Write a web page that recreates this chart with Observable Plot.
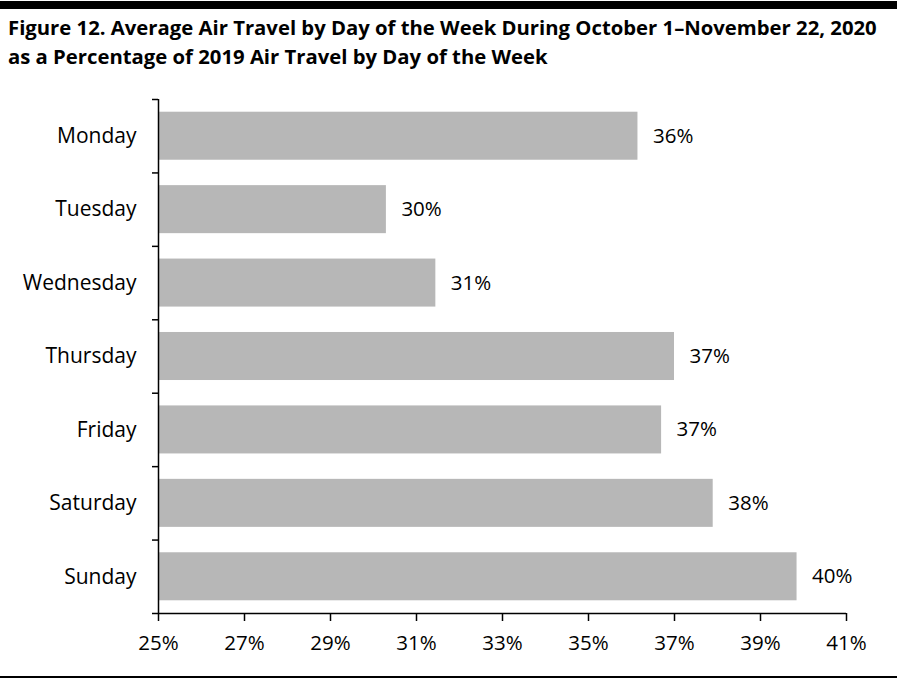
<!DOCTYPE html>
<html>
<head>
<meta charset="utf-8">
<script src="https://cdn.jsdelivr.net/npm/d3@7"></script>
<script src="https://cdn.jsdelivr.net/npm/@observablehq/plot@0.6"></script>
<style>
  html, body { margin: 0; padding: 0; background: #fff; }
  #wrap { position: relative; width: 897px; height: 680px; overflow: hidden; font-family: "Open Sans", sans-serif; }
  #topbar { position: absolute; left: 0; top: 1px; width: 897px; height: 8px; background: #000; }
  #title { position: absolute; left: 8px; top: 13px; font-weight: bold; font-size: 20.3px; line-height: 29px; color: #000; white-space: nowrap; }
  #bottomline { position: absolute; left: 0; top: 676px; width: 897px; height: 2px; background: #000; }
  #chart { position: absolute; left: 0; top: 80px; }
</style>
</head>
<body>
<div id="wrap">
  <div id="topbar"></div>
  <div id="title">Figure 12. Average Air Travel by Day of the Week During October 1–November 22, 2020<br>as a Percentage of 2019 Air Travel by Day of the Week</div>
  <div id="chart"></div>
  <div id="bottomline"></div>
</div>
<script>
const days = ["Monday", "Tuesday", "Wednesday", "Thursday", "Friday", "Saturday", "Sunday"];
const values = [36.15, 30.3, 31.45, 37.0, 36.7, 37.9, 39.85];
const xTicks = [25, 27, 29, 31, 33, 35, 37, 39, 41];

const data = days.map((d, i) => ({day: d, idx: i, value: values[i]}));
const boundaries = d3.range(days.length + 1).map(i => i - 0.5);
const half = 0.327;

const chart = Plot.plot({
  width: 897,
  height: 596,
  marginTop: 19,
  marginBottom: 63,
  marginLeft: 158,
  marginRight: 51,
  style: {fontFamily: "Open Sans, sans-serif", fontSize: "20px", color: "#000", background: "transparent"},
  x: {domain: [25, 41]},
  y: {domain: [-0.5, days.length - 0.5], reverse: true},
  marks: [
    Plot.rectX(data, {x1: 25, x2: "value", y1: d => d.idx - half, y2: d => d.idx + half, fill: "#b7b7b7"}),
    Plot.text(data, {x: "value", y: "idx", text: d => d3.format(".0f")(d.value) + "%", textAnchor: "start", dx: 15, fontSize: 20.5, fill: "#000"}),
    Plot.axisX({ticks: xTicks, tickFormat: d => d + "%", tickSize: 8, tickPadding: 14, fontSize: 20.5, stroke: "#000", strokeWidth: 1.5, label: null}),
    Plot.axisY({ticks: boundaries, tickFormat: () => "", tickSize: 6, stroke: "#000", strokeWidth: 1.5, label: null}),
    Plot.axisY({ticks: d3.range(days.length), tickFormat: i => days[i], tickSize: 0, tickPadding: 22, fontSize: 21, label: null}),
    Plot.ruleX([25], {y1: -0.5, y2: days.length - 0.5, stroke: "#000", strokeWidth: 1.5}),
    Plot.ruleY([days.length - 0.5], {x1: 25, x2: 41, stroke: "#000", strokeWidth: 1.5})
  ]
});
document.getElementById("chart").appendChild(chart);
</script>
</body>
</html>
